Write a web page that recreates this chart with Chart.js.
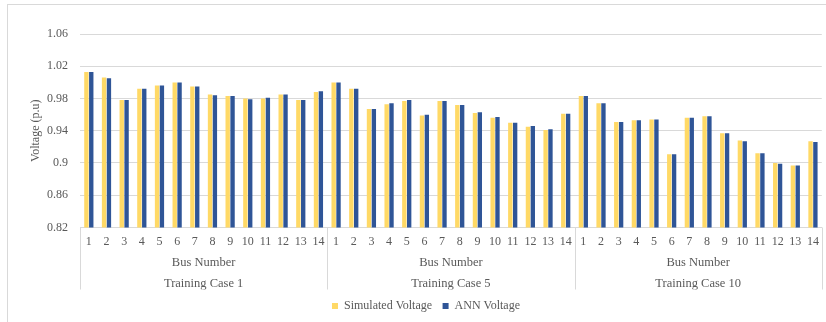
<!DOCTYPE html>
<html>
<head>
<meta charset="utf-8">
<script src="https://cdn.jsdelivr.net/npm/chart.js@4/dist/chart.umd.min.js"></script>
<style>
  html, body { margin: 0; padding: 0; background: #fff; }
  #wrap { position: relative; width: 826px; height: 322px; overflow: hidden; }
  #frame { position: absolute; left: 7px; top: 4px; width: 900px; height: 400px;
           border-left: 1px solid #d9d9d9; border-top: 1px solid #d9d9d9; pointer-events: none; }
</style>
</head>
<body>
<div id="wrap">
  <canvas id="voltChart" width="826" height="322"></canvas>
  <div id="frame"></div>
</div>
<script>
// bus numbers repeated under every training case
const busNumbers = ['1','2','3','4','5','6','7','8','9','10','11','12','13','14']
const caseNames = ['Training Case 1', 'Training Case 5', 'Training Case 10']
const yTicks = [0.82, 0.86, 0.9, 0.94, 0.98, 1.02, 1.06]

// values (p.u)
const simCase1 = [1.013, 1.006, 0.978, 0.992, 0.996, 1.000, 0.995, 0.985, 0.983, 0.980, 0.980, 0.985, 0.978, 0.988]
const annCase1 = [1.013, 1.005, 0.978, 0.992, 0.996, 1.000, 0.995, 0.984, 0.983, 0.979, 0.981, 0.985, 0.978, 0.989]
const simCase5 = [1.000, 0.992, 0.967, 0.973, 0.977, 0.959, 0.977, 0.972, 0.962, 0.956, 0.950, 0.945, 0.941, 0.961]
const annCase5 = [1.000, 0.992, 0.967, 0.974, 0.978, 0.960, 0.977, 0.972, 0.963, 0.957, 0.950, 0.946, 0.942, 0.961]
const simCase10 = [0.983, 0.974, 0.951, 0.953, 0.954, 0.911, 0.956, 0.958, 0.937, 0.928, 0.912, 0.900, 0.897, 0.927]
const annCase10 = [0.983, 0.974, 0.951, 0.953, 0.954, 0.911, 0.956, 0.958, 0.937, 0.927, 0.912, 0.899, 0.897, 0.926]

const labels = busNumbers.concat(busNumbers, busNumbers)
const simulated = simCase1.concat(simCase5, simCase10)
const ann = annCase1.concat(annCase5, annCase10)

const textColor = '#595959'
const lineColor = '#d9d9d9'
const serif = 'Liberation Serif'

// vertical separators for the grouped category axis
const groupLines = {
    id: 'groupLines',
    afterDraw(chart) {
        const x3 = chart.scales.x3
        const ctx = chart.ctx
        ctx.save()
        ctx.strokeStyle = lineColor
        ctx.lineWidth = 1
        for (let i = 0; i <= caseNames.length; i++) {
            let px = Math.round(x3.getPixelForDecimal(i / caseNames.length)) + 0.5
            ctx.beginPath()
            ctx.moveTo(px, chart.chartArea.bottom)
            ctx.lineTo(px, x3.bottom)
            ctx.stroke()
        }
        ctx.restore()
    }
}

function groupAxis(names, pad, height) {
    return {
        type: 'category',
        position: 'bottom',
        labels: names,
        offset: true,
        grid: { display: false, drawTicks: false },
        border: { display: false },
        ticks: {
            padding: pad,
            maxRotation: 0,
            autoSkip: false,
            color: textColor,
            font: { family: serif, size: 12.5 }
        },
        afterFit: scale => { scale.height = height }
    }
}

new Chart(document.getElementById('voltChart'), {
    type: 'bar',
    data: {
        labels: labels,
        datasets: [
            {
                label: 'Simulated Voltage',
                data: simulated,
                backgroundColor: '#ffd966',
                barPercentage: 0.9,
                categoryPercentage: 0.55
            },
            {
                label: 'ANN Voltage',
                data: ann,
                backgroundColor: '#2f5597',
                barPercentage: 0.9,
                categoryPercentage: 0.55
            }
        ]
    },
    plugins: [groupLines],
    options: {
        responsive: false,
        animation: false,
        layout: { padding: { left: 29, right: 3, top: 34, bottom: 0 } },
        plugins: {
            legend: {
                position: 'bottom',
                labels: {
                    boxWidth: 6,
                    boxHeight: 6,
                    padding: 10.5,
                    color: textColor,
                    font: { family: serif, size: 12 }
                }
            },
            tooltip: { enabled: false }
        },
        scales: {
            y: {
                min: 0.82,
                max: 1.06,
                afterBuildTicks: scale => { scale.ticks = yTicks.map(v => ({ value: v })) },
                grid: { color: lineColor, drawTicks: false },
                border: { display: false },
                ticks: {
                    padding: 12,
                    color: textColor,
                    font: { family: serif, size: 12 },
                    callback: v => String(parseFloat(v.toFixed(2)))
                },
                title: {
                    display: true,
                    text: 'Voltage (p.u)',
                    color: textColor,
                    font: { family: serif, size: 12 },
                    padding: { top: 0, bottom: 0 }
                },
                afterFit: scale => { scale.width = 51 }
            },
            x: {
                grid: { display: false, drawTicks: false },
                border: { display: true, color: lineColor },
                ticks: {
                    padding: 7,
                    maxRotation: 0,
                    autoSkip: false,
                    color: textColor,
                    font: { family: serif, size: 12 }
                },
                afterFit: scale => { scale.height = 24 }
            },
            x2: groupAxis(['Bus Number', 'Bus Number', 'Bus Number'], 3.5, 21),
            x3: groupAxis(caseNames, 3.5, 17)
        }
    }
})
</script>
</body>
</html>
